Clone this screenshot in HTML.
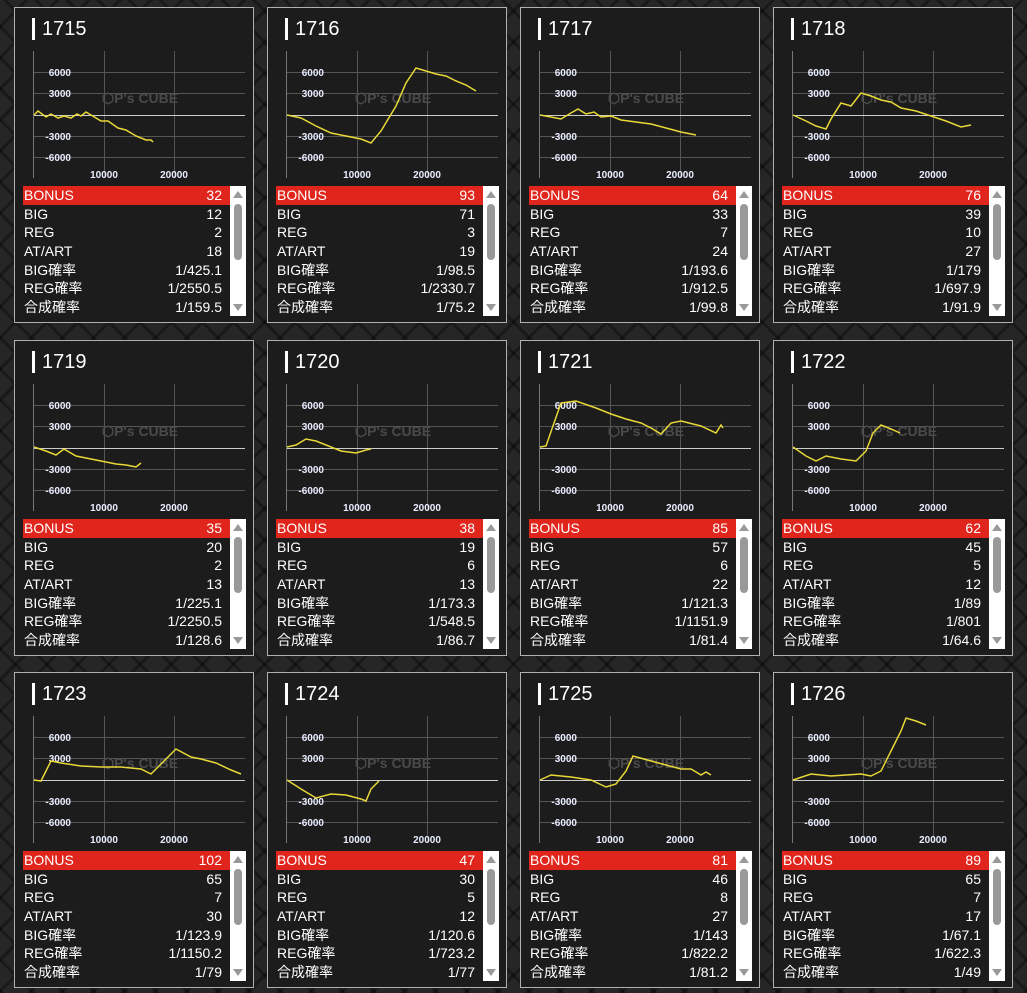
<!DOCTYPE html>
<html><head><meta charset="utf-8"><style>
*{margin:0;padding:0;box-sizing:border-box}
body{width:1027px;height:993px;overflow:hidden;position:relative;background:#262626;
background-image:repeating-linear-gradient(45deg,rgba(0,0,0,.35) 0 3px,transparent 3px 22px),repeating-linear-gradient(-45deg,rgba(0,0,0,.35) 0 3px,transparent 3px 22px);
font-family:"Liberation Sans","Noto Sans CJK JP",sans-serif;color:#fff}
.card{position:absolute;width:240px;height:316px;background:#1c1c1c;border:1px solid #b0b0b0}
.bar{position:absolute;left:17px;top:10px;width:3px;height:22px;background:#fff}
.ttl{position:absolute;left:27px;top:8px;font-size:20px;line-height:26px}
svg{position:absolute;left:0;top:0}
.tb{position:absolute;left:8px;top:178px;width:208px}
.r{height:18.7px;font-size:14px;line-height:18.7px;display:flex;justify-content:space-between;padding:0 9px 0 1px}
.r.h{background:#e0251c}
.sb{position:absolute;left:215px;top:178px;width:16px;height:130px;background:#fff}
.th{position:absolute;left:4px;top:18px;width:8px;height:56px;background:#999;border-radius:4px}
.au,.ad{position:absolute;left:3px;width:0;height:0;border-left:5px solid transparent;border-right:5px solid transparent}
.au{top:5px;border-bottom:7px solid #999}.ad{bottom:5px;border-top:7px solid #999}
</style></head><body>
<script>
const cards=[
["1715",[32,12,2,18,"1/425.1","1/2550.5","1/159.5"],[[33,114],[37,110],[45,116],[50,113],[57,117],[63,115],[70,117],[76,113],[80,115],[85,111],[95,117],[100,120],[107,120],[117,127],[125,129],[135,135],[145,139],[150,139],[152,141]]],
["1716",[93,71,3,19,"1/98.5","1/2330.7","1/75.2"],[[286,114],[300,117],[315,125],[330,132],[345,135],[360,138],[370,142],[380,130],[395,105],[405,82],[415,67],[425,70],[435,73],[445,75],[455,80],[465,84],[475,90]]],
["1717",[64,33,7,24,"1/193.6","1/912.5","1/99.8"],[[539,114],[550,116],[560,118],[570,112],[577,108],[585,113],[593,111],[600,116],[610,115],[620,119],[635,121],[650,123],[665,127],[680,131],[695,134]]],
["1718",[76,39,10,27,"1/179","1/697.9","1/91.9"],[[792,114],[805,120],[815,125],[825,128],[830,118],[840,102],[850,105],[860,92],[870,95],[880,99],[890,101],[900,107],[915,110],[930,115],[945,120],[960,126],[965,125],[970,124]]],
["1719",[35,20,2,13,"1/225.1","1/2250.5","1/128.6"],[[33,446],[45,450],[55,454],[63,448],[75,455],[90,458],[100,460],[115,463],[125,464],[135,466],[140,462]]],
["1720",[38,19,6,13,"1/173.3","1/548.5","1/86.7"],[[286,446],[295,444],[305,438],[315,440],[325,444],[340,450],[355,452],[365,449],[370,448]]],
["1721",[85,57,6,22,"1/121.3","1/1151.9","1/81.4"],[[539,446],[545,445],[560,402],[575,400],[595,407],[610,413],[625,418],[640,422],[650,427],[660,433],[670,422],[680,420],[700,425],[715,432],[720,424],[722,427]]],
["1722",[62,45,5,12,"1/89","1/801","1/64.6"],[[792,446],[805,455],[815,460],[825,455],[840,458],[855,460],[865,450],[872,432],[880,424],[890,428],[899,432]]],
["1723",[102,65,7,30,"1/123.9","1/1150.2","1/79"],[[33,779],[40,780],[50,760],[60,762],[80,765],[100,766],[120,766],[140,768],[150,773],[160,763],[175,748],[190,756],[200,758],[215,762],[230,769],[240,773]]],
["1724",[47,30,5,12,"1/120.6","1/723.2","1/77"],[[286,779],[300,788],[315,797],[330,793],[345,794],[360,798],[365,800],[370,788],[378,780]]],
["1725",[81,46,8,27,"1/143","1/822.2","1/81.2"],[[539,779],[550,774],[570,776],[590,779],[605,786],[615,783],[625,770],[632,755],[650,760],[665,764],[680,768],[690,768],[700,774],[705,771],[710,774]]],
["1726",[89,65,7,17,"1/67.1","1/622.3","1/49"],[[792,779],[810,773],[830,775],[845,774],[860,773],[870,775],[880,770],[890,750],[900,730],[905,717],[915,720],[925,724]]]
];
const X=[14,267,520,773],Y=[7,340,672],L=["BONUS","BIG","REG","AT/ART","BIG確率","REG確率","合成確率"];
let h="";
cards.forEach((c,i)=>{const ox=X[i%4],oy=Y[Math.floor(i/4)];
const pts=c[2].map(p=>(p[0]-ox)+","+(p[1]-oy)).join(" ");
let g='<svg width="240" height="178" font-family="Liberation Sans Narrow,Liberation Sans,sans-serif" font-size="10" font-weight="bold">';
g+='<line x1="18.5" y1="43" x2="18.5" y2="170" stroke="#777"/>';
[89,159].forEach(x=>g+=`<line x1="${x}.5" y1="43" x2="${x}.5" y2="170" stroke="#555"/>`);
[[64,"6000"],[85,"3000"],[128,"-3000"],[149,"-6000"]].forEach(a=>g+=`<line x1="19" y1="${a[0]}.5" x2="230" y2="${a[0]}.5" stroke="#555"/><text x="56" y="${a[0]+4}" text-anchor="end" fill="#e8ecff">${a[1]}</text>`);
g+='<line x1="19" y1="107.5" x2="230" y2="107.5" stroke="#ccc"/>';
g+='<text x="89" y="170" text-anchor="middle" fill="#e8ecff">10000</text><text x="159" y="170" text-anchor="middle" fill="#e8ecff">20000</text>';
g+='<text x="125" y="95" text-anchor="middle" fill="#4a4a4a" font-size="14" font-family="Liberation Sans,sans-serif">⬡P\'s CUBE</text>';
g+=`<polyline points="${pts}" fill="none" stroke="#e8d838" stroke-width="1.5"/></svg>`;
let t='<div class="tb">';L.forEach((l,k)=>t+=`<div class="r${k?'':' h'}"><span>${l}</span><span>${c[1][k]}</span></div>`);t+='</div>';
h+=`<div class="card" style="left:${ox}px;top:${oy}px"><div class="bar"></div><div class="ttl">${c[0]}</div>${g}${t}<div class="sb"><div class="au"></div><div class="th"></div><div class="ad"></div></div></div>`;});
document.write(h);
</script>
</body></html>
